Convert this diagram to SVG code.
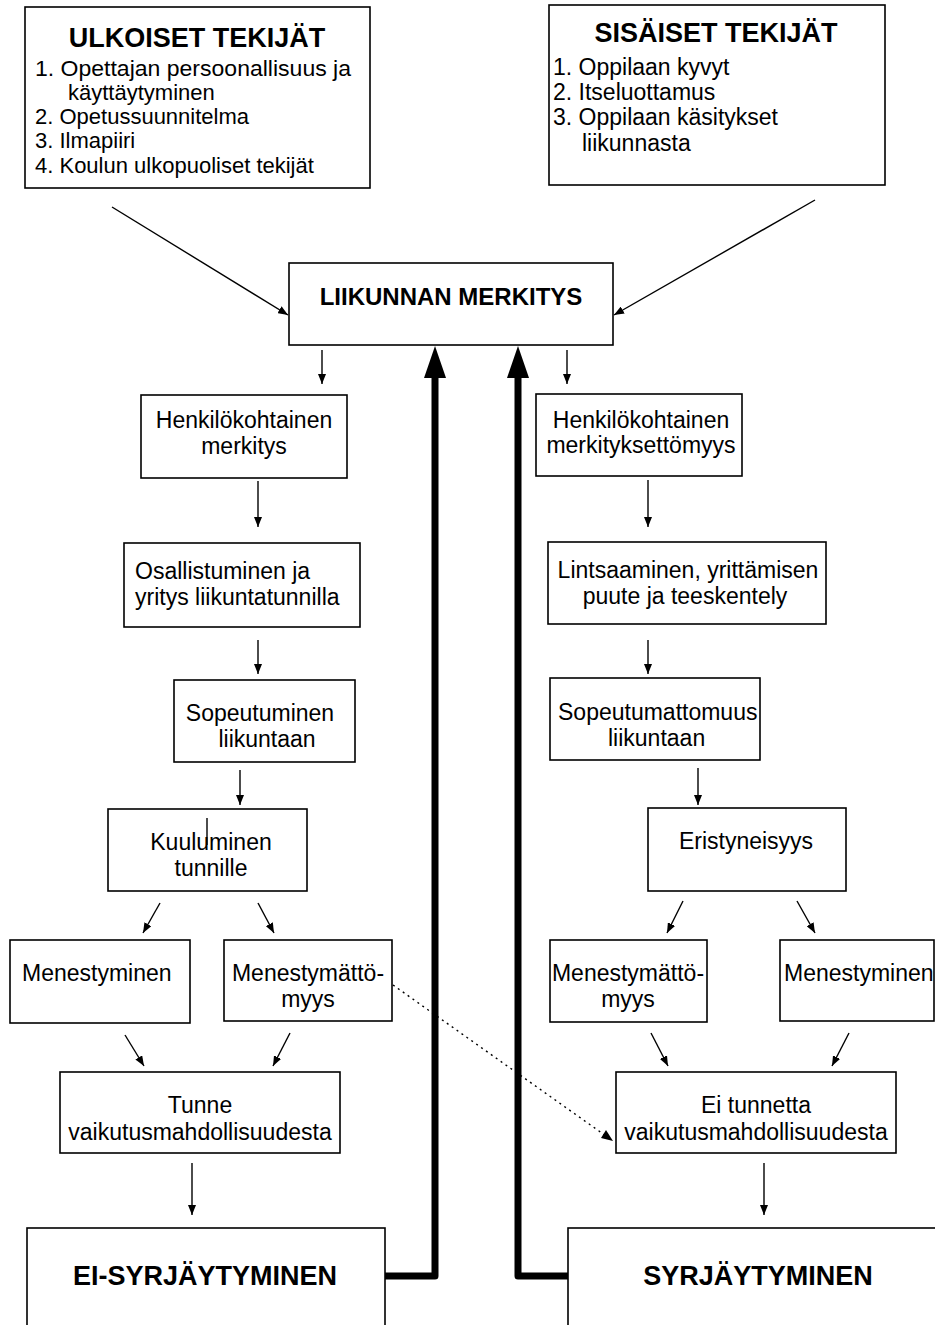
<svg xmlns="http://www.w3.org/2000/svg" width="935" height="1325" viewBox="0 0 935 1325">
<defs>
<style>
.box{fill:#fff;stroke:#000;stroke-width:1.6}
.t{font-family:"Liberation Sans",Arial,sans-serif;font-size:23px;fill:#000}
.l{font-size:22px}
.c{text-anchor:middle}
.h{font-family:"Liberation Sans",Arial,sans-serif;font-weight:bold;fill:#000;text-anchor:middle}
.ln{stroke:#000;stroke-width:1.4;fill:none}
.thick{stroke:#000;stroke-width:7;fill:none;stroke-linejoin:round}
.dot{stroke:#000;stroke-width:1.4;fill:none;stroke-dasharray:2 4}
</style>
<marker id="ah" viewBox="0 0 10 8" refX="10" refY="4" markerWidth="10" markerHeight="8" markerUnits="userSpaceOnUse" orient="auto">
<path d="M0,0 L10,4 L0,8 z" fill="#000"/>
</marker>
</defs>
<rect width="935" height="1325" fill="#fff"/>

<g id="ulkoiset">
<rect class="box" x="25" y="7" width="345" height="181"/>
<text class="h" x="197" y="47" font-size="27">ULKOISET TEKIJÄT</text>
<text class="t l" x="35" y="76" textLength="316" lengthAdjust="spacingAndGlyphs">1. Opettajan persoonallisuus ja</text>
<text class="t l" x="68" y="100">käyttäytyminen</text>
<text class="t l" x="35" y="124">2. Opetussuunnitelma</text>
<text class="t l" x="35" y="148">3. Ilmapiiri</text>
<text class="t l" x="35" y="173">4. Koulun ulkopuoliset tekijät</text>
</g>

<g id="sisaiset">
<rect class="box" x="549" y="5" width="336" height="180"/>
<text class="h" x="716" y="42" font-size="27">SISÄISET TEKIJÄT</text>
<text class="t" x="553" y="75">1. Oppilaan kyvyt</text>
<text class="t" x="553" y="100">2. Itseluottamus</text>
<text class="t" x="553" y="125">3. Oppilaan käsitykset</text>
<text class="t" x="582" y="151">liikunnasta</text>
</g>

<g id="liikunnan">
<rect class="box" x="289" y="263" width="324" height="82"/>
<text class="h" x="451" y="305" font-size="24">LIIKUNNAN MERKITYS</text>
</g>

<g id="henk-merkitys">
<rect class="box" x="141" y="395" width="206" height="83"/>
<text class="t c" x="244" y="428">Henkilökohtainen</text>
<text class="t c" x="244" y="454">merkitys</text>
</g>

<g id="henk-merkityksettomyys">
<rect class="box" x="536" y="394" width="206" height="82"/>
<text class="t c" x="641" y="428">Henkilökohtainen</text>
<text class="t c" x="641" y="453">merkityksettömyys</text>
</g>

<g id="osallistuminen">
<rect class="box" x="124" y="543" width="236" height="84"/>
<text class="t" x="135" y="579">Osallistuminen ja</text>
<text class="t" x="135" y="605">yritys liikuntatunnilla</text>
</g>

<g id="lintsaaminen">
<rect class="box" x="548" y="542" width="278" height="82"/>
<text class="t c" x="688" y="578">Lintsaaminen, yrittämisen</text>
<text class="t c" x="685" y="604">puute ja teeskentely</text>
</g>

<g id="sopeutuminen">
<rect class="box" x="174" y="680" width="181" height="82"/>
<text class="t c" x="260" y="721">Sopeutuminen</text>
<text class="t c" x="267" y="747">liikuntaan</text>
</g>

<g id="sopeutumattomuus">
<rect class="box" x="550" y="678" width="210" height="82"/>
<text class="t" x="558" y="720" font-size="22">Sopeutumattomuus</text>
<text class="t" x="608" y="746">liikuntaan</text>
</g>

<g id="kuuluminen">
<rect class="box" x="108" y="809" width="199" height="82"/>
<line class="ln" x1="207" y1="818" x2="207" y2="845"/>
<text class="t c" x="211" y="850">Kuuluminen</text>
<text class="t c" x="211" y="876">tunnille</text>
</g>

<g id="eristyneisyys">
<rect class="box" x="648" y="808" width="198" height="83"/>
<text class="t c" x="746" y="849">Eristyneisyys</text>
</g>

<g id="menestyminen-l">
<rect class="box" x="10" y="940" width="180" height="83"/>
<text class="t" x="22" y="981">Menestyminen</text>
</g>

<g id="menestymattomyys-l">
<rect class="box" x="224" y="940" width="168" height="81"/>
<text class="t c" x="308" y="981">Menestymättö-</text>
<text class="t c" x="308" y="1007">myys</text>
</g>

<g id="menestymattomyys-r">
<rect class="box" x="550" y="940" width="157" height="82"/>
<text class="t c" x="628" y="981">Menestymättö-</text>
<text class="t c" x="628" y="1007">myys</text>
</g>

<g id="menestyminen-r">
<rect class="box" x="780" y="940" width="154" height="81"/>
<text class="t" x="784" y="981">Menestyminen</text>
</g>

<g id="tunne">
<rect class="box" x="60" y="1072" width="280" height="81"/>
<text class="t c" x="200" y="1113">Tunne</text>
<text class="t c" x="200" y="1140">vaikutusmahdollisuudesta</text>
</g>

<g id="ei-tunnetta">
<rect class="box" x="616" y="1072" width="280" height="81"/>
<text class="t c" x="756" y="1113">Ei tunnetta</text>
<text class="t c" x="756" y="1140">vaikutusmahdollisuudesta</text>
</g>

<g id="ei-syrjaytyminen">
<rect class="box" x="27" y="1228" width="358" height="120"/>
<text class="h" x="205" y="1285" font-size="27">EI-SYRJÄYTYMINEN</text>
</g>

<g id="syrjaytyminen">
<rect class="box" x="568" y="1228" width="380" height="120"/>
<text class="h" x="758" y="1285" font-size="27">SYRJÄYTYMINEN</text>
</g>

<g id="connectors">
<line class="ln" x1="112" y1="207" x2="288" y2="315" marker-end="url(#ah)"/>
<line class="ln" x1="815" y1="200" x2="614" y2="315" marker-end="url(#ah)"/>
<line class="ln" x1="322" y1="350" x2="322" y2="384" marker-end="url(#ah)"/>
<line class="ln" x1="567" y1="350" x2="567" y2="384" marker-end="url(#ah)"/>

<line class="ln" x1="258" y1="481" x2="258" y2="527" marker-end="url(#ah)"/>
<line class="ln" x1="258" y1="640" x2="258" y2="674" marker-end="url(#ah)"/>
<line class="ln" x1="240" y1="770" x2="240" y2="805" marker-end="url(#ah)"/>
<line class="ln" x1="160" y1="903" x2="143" y2="933" marker-end="url(#ah)"/>
<line class="ln" x1="258" y1="903" x2="274" y2="933" marker-end="url(#ah)"/>
<line class="ln" x1="125" y1="1035" x2="144" y2="1066" marker-end="url(#ah)"/>
<line class="ln" x1="290" y1="1033" x2="273" y2="1066" marker-end="url(#ah)"/>
<line class="ln" x1="192" y1="1163" x2="192" y2="1215" marker-end="url(#ah)"/>

<line class="ln" x1="648" y1="480" x2="648" y2="527" marker-end="url(#ah)"/>
<line class="ln" x1="648" y1="640" x2="648" y2="674" marker-end="url(#ah)"/>
<line class="ln" x1="698" y1="768" x2="698" y2="805" marker-end="url(#ah)"/>
<line class="ln" x1="683" y1="901" x2="667" y2="933" marker-end="url(#ah)"/>
<line class="ln" x1="797" y1="901" x2="815" y2="933" marker-end="url(#ah)"/>
<line class="ln" x1="651" y1="1033" x2="668" y2="1066" marker-end="url(#ah)"/>
<line class="ln" x1="849" y1="1033" x2="832" y2="1066" marker-end="url(#ah)"/>
<line class="ln" x1="764" y1="1163" x2="764" y2="1215" marker-end="url(#ah)"/>

<line class="dot" x1="393" y1="985" x2="606" y2="1136"/>
<path d="M613,1141 L601,1138 L606,1130 z" fill="#000"/>

<path class="thick" d="M385,1276 H435 V372"/>
<path d="M435,346 L424,378 L446,378 z" fill="#000"/>
<path class="thick" d="M568,1276 H518 V372"/>
<path d="M518,346 L507,378 L529,378 z" fill="#000"/>
</g>
</svg>
